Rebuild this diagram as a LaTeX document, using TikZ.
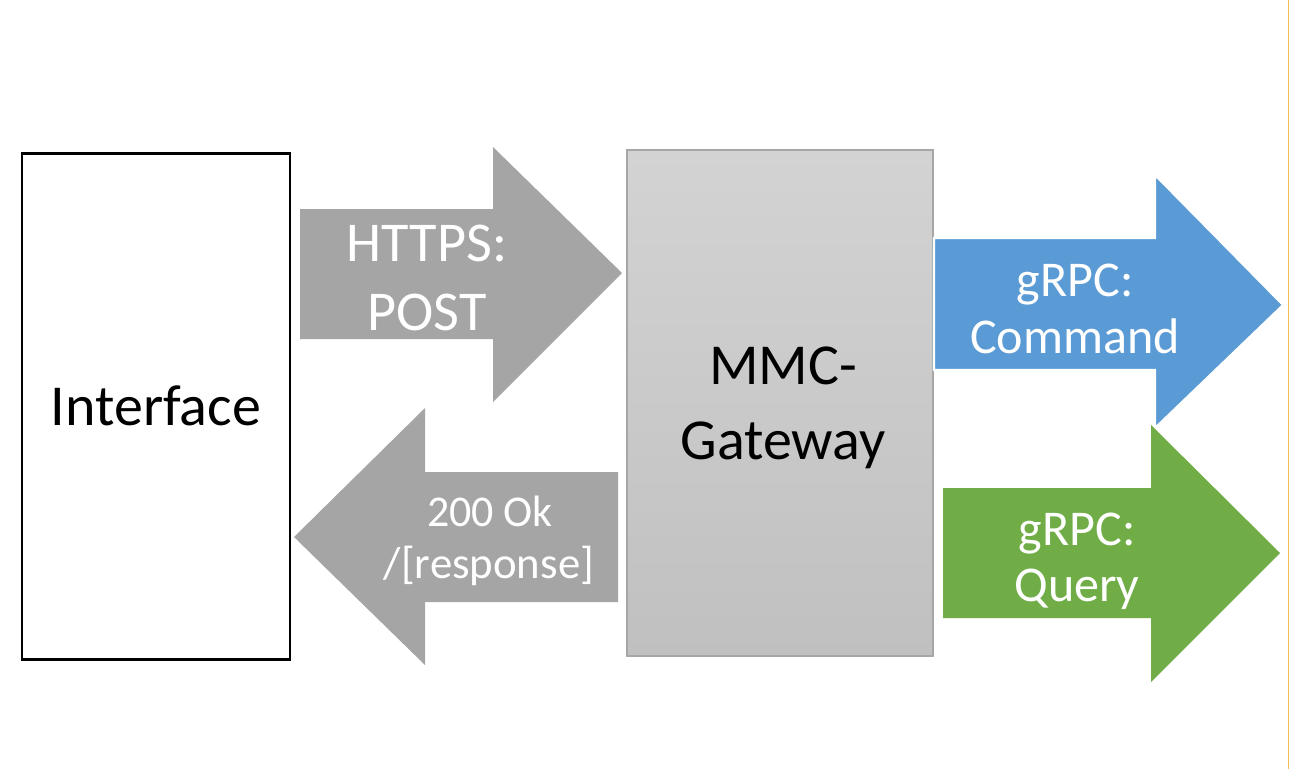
\documentclass[tikz,border=0pt]{standalone}
\usepackage{fontspec}
\setmainfont{Carlito}
\definecolor{arrgrey}{HTML}{A5A5A5}
\definecolor{arrblue}{HTML}{5B9BD5}
\definecolor{arrgreen}{HTML}{70AD47}
\definecolor{gwtop}{HTML}{D3D3D3}
\definecolor{gwbot}{HTML}{C0C0C0}
\definecolor{gwborder}{HTML}{A6A6A6}
\definecolor{edgeline}{RGB}{238,190,80}
\tikzset{
  bigarrow/.style={draw=white, line width=1.2pt, line join=miter},
  wtext/.style={text=white, align=center, inner sep=0pt},
  btext/.style={text=black, align=center, inner sep=0pt}
}
\begin{document}
\begin{tikzpicture}[x=0.02cm, y=-0.02cm]
\useasboundingbox (0,0) rectangle (1290,769);
\fill[white] (0,0) rectangle (1290,769);
\draw[edgeline, line width=0.6pt] (1288.5,0) -- (1288.5,769);

% Interface box
\node[draw=black, line width=1.7pt, minimum width=268*0.02cm, minimum height=506*0.02cm, inner sep=0pt] (iface) at (156,406) {};
\node[btext, font=\fontsize{33}{40}\selectfont] (ifacetxt) at (156,406) {Interface};

% Gateway box
\node[draw=gwborder, line width=1.1pt, top color=gwtop, bottom color=gwbot, minimum width=306*0.02cm, minimum height=506*0.02cm, inner sep=0pt] (gw) at (780,403) {};
\node[btext, font=\fontsize{33}{43}\selectfont] (gwtxt) at (783,408) {MMC-\\Gateway};

% HTTPS arrow (right)
\fill[arrgrey] (300,209) -- (493,209) -- (493,147) -- (622,273) -- (493,402) -- (493,339) -- (300,339) -- cycle;
\node[wtext, font=\fontsize{32}{39}\selectfont] (https) at (427,278) {HTTPS:\\POST};

% Response arrow (left)
\fill[arrgrey] (618,472) -- (425,472) -- (425,408) -- (294,537) -- (425,665) -- (425,602) -- (618,602) -- cycle;
\node[wtext, font=\fontsize{25}{31}\selectfont] (resp) at (490,511) {200 Ok};
\node[wtext, font=\fontsize{25.5}{31}\selectfont] (resp2) at (489,566) {/[response]};

% Command arrow (blue)
\filldraw[arrblue, bigarrow, fill=arrblue] (934,238) -- (1155,238) -- (1155,175) -- (1283,305) -- (1155,428) -- (1155,370) -- (934,370) -- cycle;
\node[wtext, font=\fontsize{28.5}{32}\selectfont] (cmd) at (1075,309) {gRPC:\\Command};

% Query arrow (green)
\fill[arrgreen] (943,488) -- (1151,488) -- (1151,425) -- (1280,553) -- (1151,682) -- (1151,618) -- (943,618) -- cycle;
\node[wtext, font=\fontsize{28.5}{32}\selectfont] (qry) at (1077,561) {gRPC:\\Query};
\end{tikzpicture}
\end{document}
